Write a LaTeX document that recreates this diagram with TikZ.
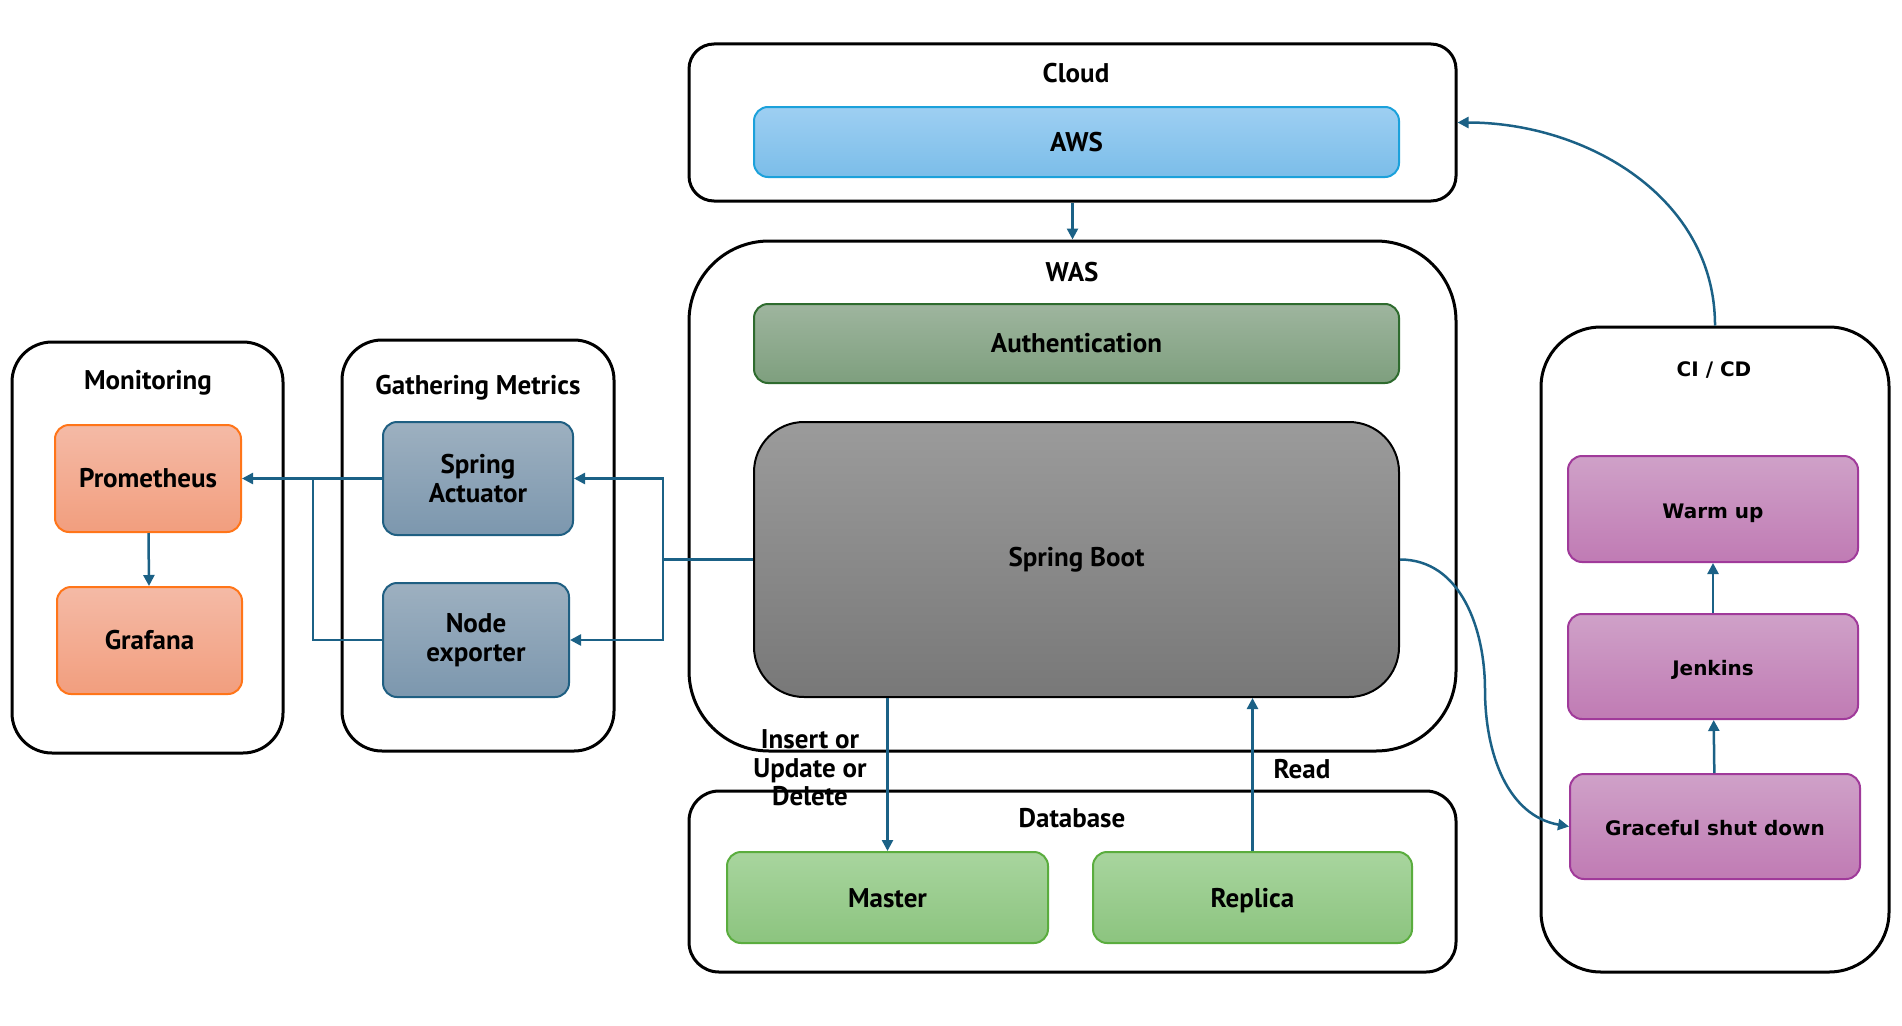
\documentclass[tikz,border=0pt]{standalone}
\usepackage{fontspec}
\setmainfont{PT Sans}
\newfontfamily\cifont{DejaVu Sans}
\usepackage{tikz}
\usetikzlibrary{arrows.meta}
\usetikzlibrary{positioning}
\definecolor{linkblue}{HTML}{1B6186}
\tikzset{group/.style = {draw, line width=3pt, rounded corners=#1, fill=white}}
\tikzset{box/.style = {draw, line width=2pt, rounded corners=14pt, font=\fontsize{27}{28.5}\selectfont\bfseries, align=center}}
\tikzset{title/.style = {font=\fontsize{27}{28.5}\selectfont\bfseries}}
\tikzset{link/.style = {draw=linkblue, line width=2.5pt, -{Triangle[length=11pt,width=11pt]}}}
\tikzset{orange/.style = {box, draw=orange!80!red!90!white, top color={rgb,255:red,244;green,186;blue,166}, bottom color={rgb,255:red,242;green,158;blue,126}}}
\tikzset{steel/.style = {box, draw={rgb,255:red,31;green,95;blue,130}, top color={rgb,255:red,157;green,176;blue,192}, bottom color={rgb,255:red,124;green,151;blue,174}}}
\tikzset{mint/.style = {box, text height=19pt, text depth=0pt, draw={rgb,255:red,90;green,173;blue,62}, top color={rgb,255:red,168;green,213;blue,158}, bottom color={rgb,255:red,140;green,196;blue,127}}}
\tikzset{pink/.style = {box, text height=18pt, text depth=0pt, draw={rgb,255:red,160;green,58;blue,154}, top color={rgb,255:red,207;green,161;blue,200}, bottom color={rgb,255:red,192;green,123;blue,180}, font=\cifont\fontsize{20}{24}\selectfont\bfseries}}

\begin{document}
\begin{tikzpicture}[x=1pt,y=-1pt]
        \useasboundingbox (0,0) rectangle (1902,1025);
        % groups
        \node [group=40pt, minimum width=271pt, minimum height=411pt] (monitoring) at (147.5,547.5) {};
        \node [group=40pt, minimum width=272pt, minimum height=411pt] (gathering) at (478,545.5) {};
        \node [group=25pt, minimum width=767pt, minimum height=157pt] (cloud) at (1072.5,122.5) {};
        \node [group=80pt, minimum width=767pt, minimum height=510pt] (was) at (1072.5,496) {};
        \node [group=30pt, minimum width=767pt, minimum height=181pt] (db) at (1072.5,881.5) {};
        \node [group=60pt, minimum width=348pt, minimum height=645pt] (cicd) at (1715,649.5) {};
        \node [title] (monitoringtitle) at (148,383) {Monitoring};
        \node [title] (gatheringtitle) at (478,388) {Gathering Metrics};
        \node [title] (cloudtitle) at (1076,73) {Cloud};
        \node [title] (wastitle) at (1072,272) {WAS};
        \node [title] (dbtitle) at (1072,818) {Database};
        \node [title, font=\cifont\fontsize{20}{24}\selectfont\bfseries] (cicdtitle) at (1714,370) {CI / CD};
        % boxes
        \node [box, draw={rgb,255:red,27;green,161;blue,219}, top color={rgb,255:red,158;green,207;blue,242}, bottom color={rgb,255:red,123;green,189;blue,233}, minimum width=645pt, minimum height=70pt] (aws) at (1076.5,142) {AWS};
        \node [box, draw={rgb,255:red,46;green,107;blue,46}, top color={rgb,255:red,158;green,181;blue,158}, bottom color={rgb,255:red,126;green,159;blue,126}, minimum width=645pt, minimum height=79pt] (auth) at (1076.5,343.5) {Authentication};
        \node [box, draw=black, rounded corners=50pt, top color={rgb,255:red,155;green,155;blue,155}, bottom color={rgb,255:red,120;green,120;blue,120}, minimum width=645pt, minimum height=275pt] (boot) at (1076.5,559.5) {Spring Boot};
        \node [mint, minimum width=321pt, minimum height=91pt] (master) at (887.5,897.5) {Master};
        \node [mint, minimum width=319pt, minimum height=91pt] (replica) at (1252.5,897.5) {Replica};
        \node [pink, minimum width=290pt, minimum height=106pt] (warmup) at (1713,509) {Warm up};
        \node [pink, minimum width=290pt, minimum height=105pt] (jenkins) at (1713,666.5) {Jenkins};
        \node [pink, minimum width=290pt, minimum height=105pt] (graceful) at (1715,826.5) {Graceful shut down};
        \node [orange, minimum width=186pt, minimum height=107pt] (prom) at (148,478.5) {Prometheus};
        \node [orange, minimum width=185pt, minimum height=107pt] (grafana) at (149.5,640.5) {Grafana};
        \node [steel, minimum width=190pt, minimum height=113pt] (actuator) at (478,478.5) {Spring\\Actuator};
        \node [steel, minimum width=186pt, minimum height=114pt] (nodeexp) at (476,640) {Node\\exporter};
        % connectors
        \coordinate (jr) at (663,559.5);
        \coordinate (jl) at (313,478.5);
        \coordinate (bend) at (1485,690);
        \draw [link] (cloud.south) -- (was.north);
        \draw [link] (boot.west) -- (jr) |- (actuator.east);
        \draw [link] (jr) |- (nodeexp.east);
        \draw [link] (actuator.west) -- (prom.east);
        \draw [link, -] (nodeexp.west) -| (jl);
        \draw [link] (prom) -- (grafana);
        \draw [link] (boot.south -| master.north) -- (master.north);
        \draw [link] (replica.north) -- (replica.north |- boot.south);
        \draw [link, -] (boot.east) to[out=0,in=90] (bend);
        \draw [link] (bend) to[out=-90,in=170] (graceful.west);
        \draw [link] (graceful) -- (jenkins);
        \draw [link] (jenkins) -- (warmup);
        \draw [link] (cicd.north) to[out=90,in=0] (cloud.east);
        \node [title, align=center] (writelabel) at (810,768) {Insert or\\Update or\\Delete};
        \node [title] (readlabel) at (1302,769) {Read};
\end{tikzpicture}
\end{document}
